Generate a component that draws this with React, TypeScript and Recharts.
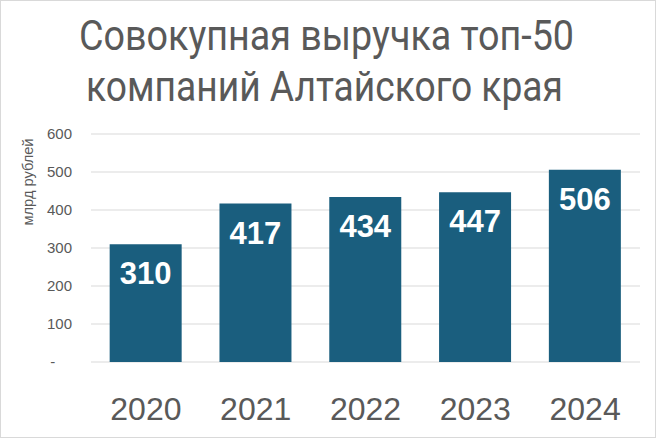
import React from "react";
import { BarChart, Bar, XAxis, YAxis, CartesianGrid, LabelList } from "recharts";

const years = ["2020", "2021", "2022", "2023", "2024"];
const revenue = [310, 417, 434, 447, 506];
const yTicks = [0, 100, 200, 300, 400, 500, 600];
const titleLines = ["Совокупная выручка топ-50", "компаний Алтайского края"];
const yLabel = "млрд рублей";

const data = years.map((y, i) => ({ year: y, value: revenue[i] }));

const GRAY = "#595959";
const BAR = "#1a5e7e";

export default function App() {
  return (
    <div
      style={{
        position: "relative",
        width: 656,
        height: 438,
        boxSizing: "border-box",
        border: "1px solid #d9d9d9",
        background: "#fff",
        overflow: "hidden",
      }}
    >
      <style>{"body{margin:0}"}</style>
      <div style={{ position: "absolute", left: -1, top: -1 }}>
        <BarChart
          width={656}
          height={438}
          data={data}
          margin={{ top: 134, right: 16, bottom: 16, left: 30 }}
          barCategoryGap="17%"
        >
          <CartesianGrid vertical={false} stroke="#d9d9d9" />
          <XAxis
            dataKey="year"
            axisLine={false}
            tickLine={false}
            height={60}
            tickMargin={29}
            tick={{ fill: GRAY, fontSize: 32, fontFamily: "'Liberation Sans', Arial, sans-serif" }}
          />
          <YAxis
            width={61}
            domain={[0, 600]}
            ticks={yTicks}
            axisLine={false}
            tickLine={false}
            tickMargin={13}
            tickFormatter={(v: number) => (v === 0 ? "-\u2007\u2007" : String(v))}
            tick={{ fill: GRAY, fontSize: 15, fontFamily: "'Liberation Sans', Arial, sans-serif" }}
          />
          <Bar dataKey="value" fill={BAR} isAnimationActive={false}>
            <LabelList
              dataKey="value"
              position="insideTop"
              offset={18}
              fill="#ffffff"
              fontSize={31}
              fontWeight="bold"
              fontFamily="'Liberation Sans', Arial, sans-serif"
            />
          </Bar>
        </BarChart>
      </div>
      <svg width={656} height={438} style={{ position: "absolute", left: -1, top: -1, pointerEvents: "none" }}>
        <text
          x={79}
          y={50}
          textLength={495}
          lengthAdjust="spacingAndGlyphs"
          fill={GRAY}
          fontSize={42}
          fontFamily="Roboto, 'Noto Sans', sans-serif"
        >
          {titleLines[0]}
        </text>
        <text
          x={86}
          y={101}
          textLength={477}
          lengthAdjust="spacingAndGlyphs"
          fill={GRAY}
          fontSize={42}
          fontFamily="Roboto, 'Noto Sans', sans-serif"
        >
          {titleLines[1]}
        </text>
        <text
          x={28}
          y={182}
          transform="rotate(-90 28 182)"
          textAnchor="middle"
          dominantBaseline="central"
          textLength={87}
          lengthAdjust="spacingAndGlyphs"
          fill={GRAY}
          fontSize={14}
          fontFamily="'Liberation Sans', Arial, sans-serif"
        >
          {yLabel}
        </text>
      </svg>
    </div>
  );
}
